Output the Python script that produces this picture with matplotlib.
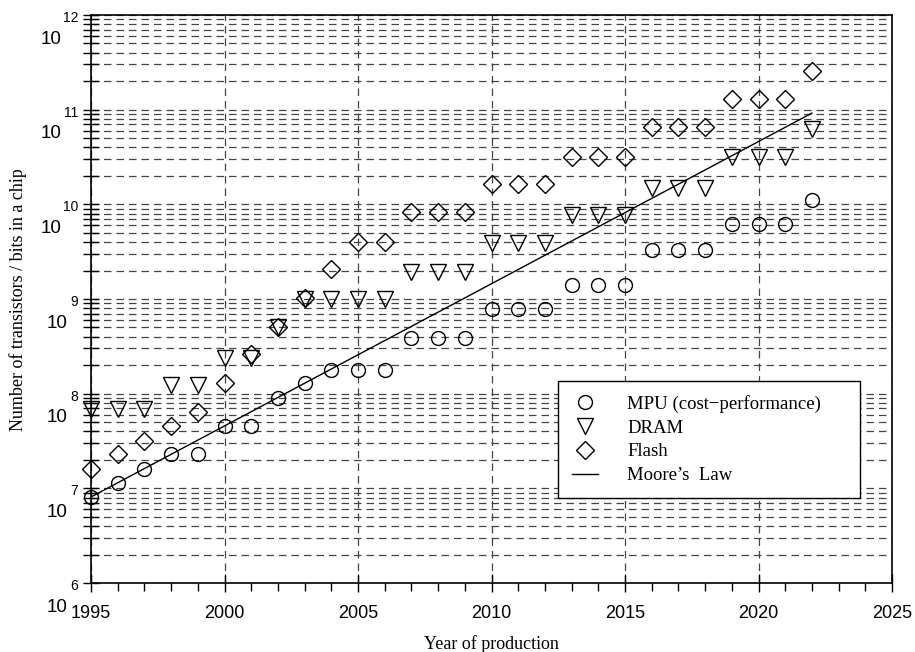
import matplotlib
matplotlib.use("Agg")
import matplotlib.pyplot as plt
from matplotlib.ticker import FixedLocator, NullFormatter

years = list(range(1995, 2023))

mpu = [8.1e6, 1.14e7, 1.6e7, 2.3e7, 2.3e7, 4.5e7, 4.5e7, 9.1e7, 1.3e8, 1.8e8,
       1.8e8, 1.8e8, 3.9e8, 3.9e8, 3.9e8, 7.8e8, 7.8e8, 7.8e8, 1.4e9, 1.4e9,
       1.4e9, 3.3e9, 3.3e9, 3.3e9, 6.2e9, 6.2e9, 6.2e9, 1.1e10]

dram = [6.9e7, 6.9e7, 6.9e7, 1.23e8, 1.23e8, 2.4e8, 2.4e8, 5.0e8, 1.0e9, 1.0e9,
        1.0e9, 1.0e9, 1.92e9, 1.92e9, 1.92e9, 3.9e9, 3.9e9, 3.9e9, 7.7e9, 7.7e9,
        7.7e9, 1.5e10, 1.5e10, 1.5e10, 3.2e10, 3.2e10, 3.2e10, 6.2e10]

flash = [1.6e7, 2.3e7, 3.2e7, 4.5e7, 6.4e7, 1.3e8, 2.6e8, 5.0e8, 1.02e9, 2.07e9,
         4.0e9, 4.0e9, 8.3e9, 8.3e9, 8.3e9, 1.63e10, 1.63e10, 1.63e10, 3.2e10, 3.2e10,
         3.2e10, 6.5e10, 6.5e10, 6.5e10, 1.29e11, 1.29e11, 1.29e11, 2.55e11]

moore_years = [1995, 2022]
moore_vals = [8.1e6, 9.2e10]

x_ticks = [1995, 2000, 2005, 2010, 2015, 2020, 2025]
y_exps = [6, 7, 8, 9, 10, 11, 12]

W, H = 915, 652
fig = plt.figure(figsize=(W / 100, H / 100), dpi=100)
ax = fig.add_axes([91 / W, 1 - 583 / H, (892 - 91) / W, (583 - 15) / H])

sans = "Liberation Sans"
serif = "Liberation Serif"

ax.set_yscale("log")
ax.set_xlim(1995, 2025)
ax.set_ylim(10 ** y_exps[0], 10 ** y_exps[-1])

ms = 10
ax.plot(years, mpu, ls="none", marker="o", ms=ms, mfc="none", mec="black", mew=1.0,
        label="MPU (cost\u2212performance)", clip_on=False, zorder=3)
ax.plot(years, dram, ls="none", marker="v", ms=ms + 1, mfc="none", mec="black", mew=1.0,
        label="DRAM", clip_on=False, zorder=3)
ax.plot(years, flash, ls="none", marker="D", ms=9, mfc="none", mec="black", mew=1.0,
        label="Flash", clip_on=False, zorder=3)
ax.plot(moore_years, moore_vals, color="black", lw=1.0, label="Moore\u2019s  Law", zorder=3)

# ticks
ax.xaxis.set_major_locator(FixedLocator(x_ticks))
ax.xaxis.set_minor_locator(FixedLocator(years + [2023, 2024]))
ax.set_xticklabels([str(t) for t in x_ticks], fontfamily=sans, fontsize=13)
ax.tick_params(axis="x", which="major", direction="inout", length=13, width=1.0, pad=9)
ax.tick_params(axis="x", which="minor", direction="out", length=6, width=1.0)

ax.yaxis.set_major_locator(FixedLocator([10.0 ** e for e in y_exps]))
minors = [k * 10.0 ** e for e in y_exps[:-1] for k in range(2, 10)]
ax.yaxis.set_minor_locator(FixedLocator(minors))
ax.yaxis.set_major_formatter(NullFormatter())
ax.yaxis.set_minor_formatter(NullFormatter())
ax.tick_params(axis="y", which="both", direction="inout", length=12, width=1.0)

# grid
dash = (0, (6, 4))
ax.grid(True, which="both", axis="y", ls=dash, color="#444444", lw=0.9)
ax.grid(True, which="major", axis="x", ls=dash, color="#444444", lw=0.9)
ax.set_axisbelow(True)

for s in ax.spines.values():
    s.set_linewidth(1.2)
    s.set_color("black")

# y tick labels as 10 with raised exponent
ytr = ax.get_yaxis_transform()
for e in y_exps:
    ax.annotate(str(e), xy=(0, 10.0 ** e), xycoords=ytr, xytext=(-13, -3),
                textcoords="offset pixels", ha="right", va="center",
                fontfamily=sans, fontsize=10, annotation_clip=False)
    off = -29 if e >= 10 else -23
    ax.annotate("10", xy=(0, 10.0 ** e), xycoords=ytr, xytext=(off, -24),
                textcoords="offset pixels", ha="right", va="center",
                fontfamily=sans, fontsize=13.5, annotation_clip=False)

ax.set_xlabel("Year of production", fontfamily=serif, fontsize=13, labelpad=10)
fig.text(18 / W, 1 - 300 / H, "Number of transistors / bits in a chip",
         rotation=90, ha="center", va="center", fontfamily=serif, fontsize=13)

leg = ax.legend(loc="upper left",
                bbox_to_anchor=(558 / W, 1 - 497 / H, 302 / W, 116 / H),
                bbox_transform=fig.transFigure, borderaxespad=0, mode="expand",
                prop={"family": serif, "size": 13.5}, frameon=True, fancybox=False,
                edgecolor="black", framealpha=1, handlelength=1.4,
                handletextpad=1.55, borderpad=0.75, labelspacing=0.35)
leg.get_frame().set_linewidth(1.0)

fig.savefig("out.png", dpi=100)
